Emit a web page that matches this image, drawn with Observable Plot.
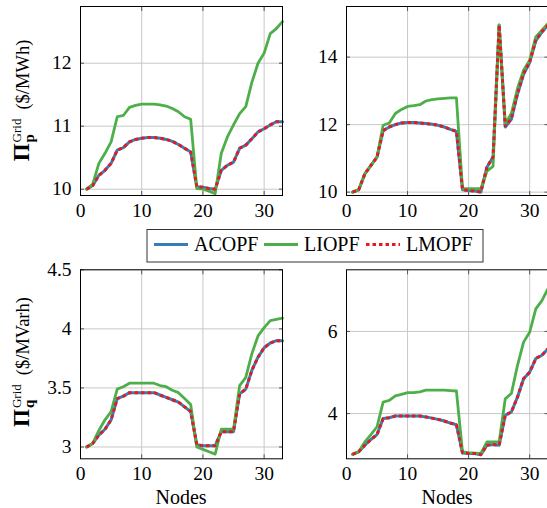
<!DOCTYPE html>
<html>
<head>
<meta charset="utf-8">
<script src="https://cdn.jsdelivr.net/npm/d3@7"></script>
<script src="https://cdn.jsdelivr.net/npm/@observablehq/plot@0.6"></script>
<style>
  html, body { margin: 0; padding: 0; background: #fff; }
  #root { position: relative; width: 547px; height: 508px; overflow: hidden; background: #fff; font-family: "Liberation Serif", serif; }
  #root > svg, #root > div { position: absolute; }
  #root svg text { font-family: "Liberation Serif", serif; }
</style>
</head>
<body>
<div id="root"></div>
<script>
// ---------- data ----------
const nodes = [1,2,3,4,5,6,7,8,9,10,11,12,13,14,15,16,17,18,19,20,21,22,23,24,25,26,27,28,29,30,31,32,33];
const methods = ["ACOPF", "LIOPF", "LMOPF"];
const xTicks = [0, 10, 20, 30];

// Panel (a): active price, case 1
const pA_ACOPF = [10.0,10.06,10.22,10.30,10.41,10.62,10.66,10.75,10.79,10.81,10.82,10.82,10.81,10.79,10.76,10.71,10.65,10.59,10.04,10.03,10.01,10.0,10.30,10.38,10.43,10.65,10.70,10.80,10.91,10.96,11.02,11.07,11.07];
const pA_LIOPF = [10.0,10.08,10.41,10.57,10.75,11.15,11.17,11.30,11.33,11.35,11.35,11.35,11.34,11.32,11.28,11.23,11.15,11.11,10.01,10.0,9.97,9.93,10.57,10.83,11.02,11.20,11.31,11.70,12.0,12.16,12.47,12.55,12.66];
const pA_LMOPF = [10.0,10.06,10.22,10.30,10.41,10.62,10.66,10.75,10.79,10.81,10.82,10.82,10.81,10.79,10.76,10.71,10.65,10.59,10.04,10.03,10.01,10.0,10.30,10.38,10.43,10.65,10.70,10.80,10.91,10.96,11.02,11.07,11.07];

// Panel (b): active price, case 2
const pB_ACOPF = [10.0,10.07,10.54,10.79,11.04,11.82,11.93,12.0,12.05,12.06,12.06,12.05,12.03,12.01,11.98,11.93,11.86,11.80,10.07,10.05,10.03,10.0,10.74,11.04,14.95,11.93,12.16,12.90,13.49,13.84,14.48,14.74,14.95];
const pB_LIOPF = [10.0,10.07,10.54,10.79,11.04,11.98,12.05,12.33,12.45,12.54,12.56,12.59,12.70,12.74,12.76,12.78,12.79,12.79,10.10,10.10,10.10,10.10,10.62,10.76,14.95,12.03,12.33,13.07,13.61,13.91,14.6,14.8,15.0];
const pB_LMOPF = [10.0,10.07,10.54,10.79,11.04,11.82,11.93,12.0,12.05,12.06,12.06,12.05,12.03,12.01,11.98,11.93,11.86,11.80,10.07,10.05,10.03,10.0,10.74,11.04,14.95,11.95,12.18,12.92,13.51,13.86,14.5,14.75,14.95];

// Panel (c): reactive price, case 1
const qA_ACOPF = [3.0,3.03,3.10,3.15,3.23,3.41,3.43,3.46,3.46,3.46,3.46,3.46,3.44,3.42,3.40,3.38,3.34,3.30,3.02,3.01,3.01,3.01,3.13,3.13,3.13,3.45,3.49,3.65,3.76,3.84,3.88,3.90,3.90];
const qA_LIOPF = [3.0,3.03,3.14,3.23,3.30,3.49,3.51,3.54,3.54,3.54,3.54,3.54,3.52,3.51,3.48,3.46,3.41,3.36,3.0,2.98,2.96,2.94,3.15,3.15,3.15,3.52,3.59,3.79,3.94,4.01,4.07,4.08,4.09];
const qA_LMOPF = [3.0,3.03,3.10,3.15,3.23,3.41,3.43,3.46,3.46,3.46,3.46,3.46,3.44,3.42,3.40,3.38,3.34,3.30,3.02,3.01,3.01,3.01,3.13,3.13,3.13,3.45,3.49,3.65,3.76,3.84,3.88,3.90,3.90];

// Panel (d): reactive price, case 2
const qB_ACOPF = [3.01,3.07,3.23,3.37,3.49,3.88,3.90,3.94,3.94,3.94,3.94,3.94,3.92,3.89,3.86,3.82,3.77,3.73,3.04,3.03,3.03,3.0,3.23,3.25,3.23,3.96,4.04,4.40,4.85,5.01,5.34,5.42,5.58];
const qB_LIOPF = [3.01,3.07,3.31,3.49,3.68,4.28,4.32,4.43,4.47,4.51,4.51,4.53,4.57,4.57,4.57,4.57,4.56,4.55,3.07,3.05,3.04,3.03,3.31,3.31,3.31,4.36,4.49,5.17,5.74,5.98,6.55,6.75,7.04];
const qB_LMOPF = [3.01,3.07,3.23,3.37,3.49,3.88,3.90,3.94,3.94,3.94,3.94,3.94,3.92,3.89,3.86,3.82,3.77,3.73,3.04,3.03,3.03,3.0,3.23,3.25,3.23,3.96,4.04,4.40,4.85,5.01,5.34,5.42,5.58];

const yTicksPA = [10, 11, 12];
const yTicksPB = [10, 12, 14];
const yTicksQA = [3, 3.5, 4, 4.5];
const yTicksQB = [4, 6];
const yLabelP = {sub: "p", unit: "($/MWh)"};
const yLabelQ = {sub: "q", unit: "($/MVarh)"};
const xLabel = "Nodes";

// ---------- styling ----------
const colors = {ACOPF: "#377eb8", LIOPF: "#4daf4a", LMOPF: "#e41a1c"};
const FONT = "Liberation Serif";
const TICK_FS = 19.5;

function rows(ac, li, lm) {
  const out = [];
  const s = {ACOPF: ac, LIOPF: li, LMOPF: lm};
  for (const m of methods) nodes.forEach((n, i) => out.push({node: n, value: s[m][i], method: m}));
  return out;
}

function panel({left, top, yDomain, yTicks, data, mT, mB}) {
  const W = 290, H = 225;
  const lineMarks = [
    Plot.line(data.filter(d => d.method === "ACOPF"), {x: "node", y: "value", stroke: colors.ACOPF, strokeWidth: 3}),
    Plot.line(data.filter(d => d.method === "LIOPF"), {x: "node", y: "value", stroke: colors.LIOPF, strokeWidth: 2.8}),
    Plot.line(data.filter(d => d.method === "LMOPF"), {x: "node", y: "value", stroke: colors.LMOPF, strokeWidth: 3, strokeDasharray: "3.5,3", strokeLinecap: "butt", strokeLinejoin: "miter"})
  ];
  const svg = Plot.plot({
    width: W, height: H,
    marginLeft: 80, marginRight: left > 0 ? 8.5 : 8, marginTop: mT, marginBottom: mB,
    style: {fontFamily: FONT, fontSize: TICK_FS + "px", background: "transparent", color: "#000", overflow: "visible"},
    x: {domain: [0, 33], label: null},
    y: {domain: yDomain, label: null},
    marks: [
      Plot.gridX(xTicks, {stroke: "#c8c8c8", strokeOpacity: 1, strokeWidth: 1}),
      Plot.gridY(yTicks, {stroke: "#c8c8c8", strokeOpacity: 1, strokeWidth: 1}),
      Plot.axisX({ticks: xTicks, tickSize: -4, tickPadding: 11.5, stroke: "#555", fontSize: TICK_FS, fontFamily: FONT, label: null}),
      Plot.axisX({ticks: xTicks, anchor: "top", tickSize: -4, tickFormat: () => "", stroke: "#555", label: null}),
      Plot.axisY({ticks: yTicks, tickSize: -4, tickPadding: 13, stroke: "#555", fontSize: TICK_FS, fontFamily: FONT, tickFormat: d => String(d), label: null}),
      Plot.axisY({ticks: yTicks, anchor: "right", tickSize: -4, tickFormat: () => "", stroke: "#555", label: null}),
      ...lineMarks,
      Plot.frame({stroke: "#000", strokeWidth: 1})
    ]
  });
  svg.style.left = left + "px";
  svg.style.top = top + "px";
  svg.style.maxWidth = "none";
  svg.style.fontFamily = FONT;
  return svg;
}

const root = document.getElementById("root");
root.appendChild(panel({left: 0, top: 0, mT: 6, mB: 30, yDomain: [9.9, 12.9], yTicks: yTicksPA, data: rows(pA_ACOPF, pA_LIOPF, pA_LMOPF)}));
root.appendChild(panel({left: 266, top: 0, mT: 6, mB: 30, yDomain: [9.9, 15.5], yTicks: yTicksPB, data: rows(pB_ACOPF, pB_LIOPF, pB_LMOPF)}));
root.appendChild(panel({left: 0, top: 263, mT: 6.3, mB: 29.7, yDomain: [2.9, 4.5], yTicks: yTicksQA, data: rows(qA_ACOPF, qA_LIOPF, qA_LMOPF)}));
root.appendChild(panel({left: 266, top: 263, mT: 6.3, mB: 29.7, yDomain: [2.9, 7.5], yTicks: yTicksQB, data: rows(qB_ACOPF, qB_LIOPF, qB_LMOPF)}));

// ---------- overlay: axis titles and legend ----------
const NS = "http://www.w3.org/2000/svg";
const ov = document.createElementNS(NS, "svg");
ov.setAttribute("width", 547); ov.setAttribute("height", 508);
ov.style.left = "0px"; ov.style.top = "0px"; ov.style.pointerEvents = "none";
root.appendChild(ov);

function el(parent, tag, attrs, text) {
  const e = document.createElementNS(NS, tag);
  for (const k in attrs) e.setAttribute(k, attrs[k]);
  if (tag === "text") e.setAttribute("font-family", FONT);
  if (text != null) e.textContent = text;
  parent.appendChild(e);
  return e;
}

function yTitle(cx, cy, lab) {
  const g = el(ov, "g", {transform: `translate(${cx},${cy}) rotate(-90)`});
  const pi = el(g, "text", {"font-size": 23, "font-weight": "bold", x: 0, y: 0}, "Π");
  const sup = el(g, "text", {"font-size": 13, x: 0, y: -8}, "Grid");
  const sub = el(g, "text", {"font-size": 15, "font-weight": "bold", x: 0, y: 5}, lab.sub);
  const unit = el(g, "text", {"font-size": 18.5, x: 0, y: 0}, lab.unit);
  const wPi = pi.getComputedTextLength();
  const wSup = sup.getComputedTextLength();
  const wSub = sub.getComputedTextLength();
  const wUnit = unit.getComputedTextLength();
  const gap = 9;
  const total = wPi + 1 + Math.max(wSup, wSub) + gap + wUnit;
  const x0 = -total / 2;
  pi.setAttribute("x", x0);
  sup.setAttribute("x", x0 + wPi + 1);
  sub.setAttribute("x", x0 + wPi + 1);
  unit.setAttribute("x", x0 + wPi + 1 + Math.max(wSup, wSub) + gap);
}
yTitle(28.5, 100.5, yLabelP);
yTitle(28.5, 362, yLabelQ);

el(ov, "text", {x: 181, y: 504, "font-size": 20, "text-anchor": "middle"}, xLabel);
el(ov, "text", {x: 447, y: 504, "font-size": 20, "text-anchor": "middle"}, xLabel);

// legend
el(ov, "rect", {x: 147, y: 229.5, width: 336, height: 32.5, fill: "#fff", stroke: "#333", "stroke-width": 1});
const legX = [154, 264, 366];
methods.forEach((m, i) => {
  const attrs = {x1: legX[i], x2: legX[i] + 34, y1: 244.5, y2: 244.5, stroke: colors[m], "stroke-width": m === "LIOPF" ? 2.8 : 3};
  if (m === "LMOPF") attrs["stroke-dasharray"] = "3.5,3";
  el(ov, "line", attrs);
  el(ov, "text", {x: legX[i] + 40, y: 251, "font-size": 20}, m);
});
</script>
</body>
</html>
